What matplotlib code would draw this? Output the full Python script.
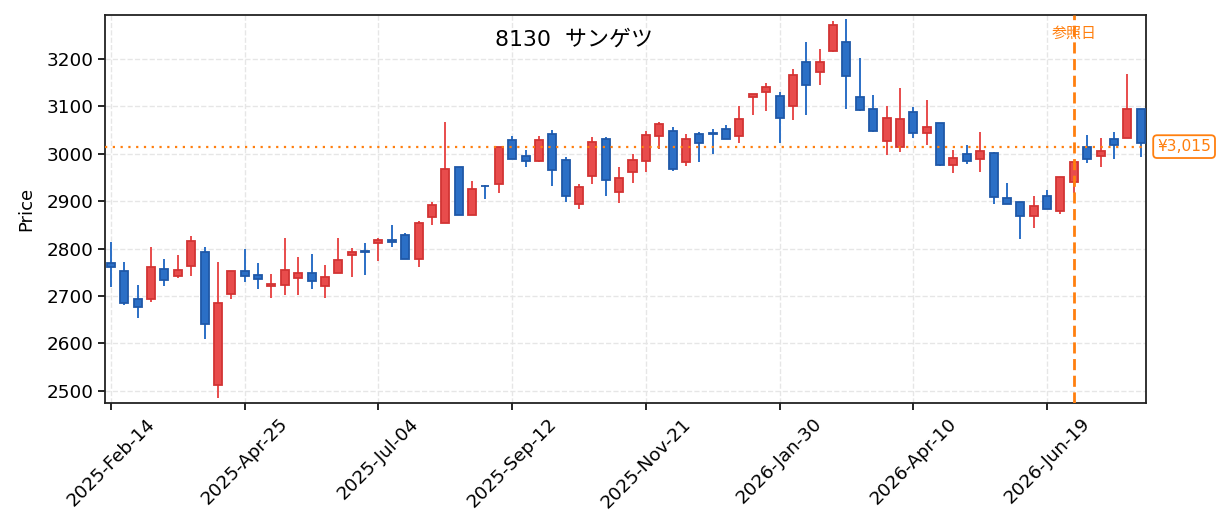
import matplotlib
matplotlib.use("Agg")
import matplotlib.pyplot as plt
import matplotlib.dates as mdates
import numpy as np
import pandas as pd

plt.rcParams['font.family'] = ['DejaVu Sans', 'Noto Sans CJK JP']

title = "8130  サンゲツ"
ref_label = "参照日"
ref_price = 3015
ref_index = 72
start_date = "2025-02-14"

opens = [2770, 2753, 2694, 2693, 2757, 2743, 2763, 2793, 2513, 2704,
         2753, 2744, 2722, 2724, 2737, 2748, 2722, 2748, 2786, 2794,
         2811, 2818, 2829, 2779, 2866, 2855, 2971, 2870, 2933, 2936,
         3029, 2995, 2984, 3042, 2987, 2894, 2953, 3032, 2919, 2961,
         2985, 3038, 3047, 2983, 3042, 3043, 3053, 3038, 3119, 3130,
         3121, 3101, 3194, 3172, 3217, 3236, 3120, 3095, 3027, 3015,
         3089, 3043, 3064, 2976, 2999, 2989, 3002, 2906, 2898, 2869,
         2910, 2879, 2941, 3015, 2995, 3031, 3033, 3095]
highs = [2813, 2771, 2723, 2803, 2778, 2786, 2827, 2803, 2771, 2753,
         2799, 2769, 2746, 2822, 2782, 2789, 2765, 2822, 2801, 2812,
         2822, 2850, 2833, 2858, 2898, 3066, 2971, 2942, 2935, 3015,
         3038, 3008, 3038, 3049, 2993, 2937, 3035, 3035, 2971, 3000,
         3047, 3066, 3056, 3042, 3045, 3052, 3060, 3101, 3125, 3149,
         3131, 3179, 3236, 3221, 3280, 3284, 3201, 3124, 3101, 3139,
         3099, 3113, 3064, 3008, 3019, 3045, 3003, 2939, 2898, 2911,
         2924, 2950, 2985, 3040, 3033, 3045, 3168, 3095]
lows = [2718, 2681, 2653, 2687, 2721, 2738, 2743, 2609, 2484, 2693,
        2730, 2715, 2696, 2702, 2702, 2715, 2696, 2748, 2740, 2744,
        2774, 2804, 2779, 2761, 2849, 2855, 2870, 2870, 2904, 2918,
        2989, 2971, 2982, 2933, 2898, 2884, 2937, 2911, 2896, 2938,
        2962, 3010, 2964, 2975, 2983, 2999, 3031, 3023, 3082, 3090,
        3023, 3071, 3082, 3145, 3214, 3094, 3091, 3045, 2997, 3004,
        3034, 3019, 2975, 2960, 2979, 2962, 2895, 2894, 2820, 2844,
        2883, 2872, 2917, 2980, 2971, 2988, 3033, 2994]
closes = [2762, 2685, 2677, 2762, 2733, 2755, 2817, 2642, 2685, 2753,
          2742, 2735, 2726, 2754, 2748, 2731, 2741, 2775, 2792, 2792,
          2818, 2813, 2779, 2853, 2891, 2967, 2870, 2925, 2931, 3015,
          2989, 2984, 3029, 2965, 2910, 2930, 3024, 2944, 2949, 2987,
          3040, 3062, 2967, 3032, 3023, 3041, 3031, 3073, 3125, 3140,
          3075, 3166, 3144, 3194, 3271, 3163, 3093, 3047, 3076, 3074,
          3044, 3056, 2977, 2992, 2985, 3006, 2909, 2895, 2869, 2889,
          2884, 2950, 2983, 2989, 3006, 3019, 3095, 3022]

dates = pd.date_range(start_date, periods=len(opens), freq="7D")
x = mdates.date2num(dates)

up_fill, up_edge = '#e84c4c', '#d23434'
dn_fill, dn_edge = '#2b6fc6', '#1f58a8'
accent = '#ff7f0e'

fig = plt.figure(figsize=(12.25, 5.32), dpi=100)
ax = fig.add_axes([0.0857, 0.2425, 0.8498, 0.7293])

o = np.array(opens); c = np.array(closes); h = np.array(highs); l = np.array(lows)
up = c >= o
fills = np.where(up, up_fill, dn_fill)
edges = np.where(up, up_edge, dn_edge)

ax.vlines(x, l, h, colors=fills, linewidth=1.4, zorder=2)
ax.bar(x, np.abs(c - o), bottom=np.minimum(o, c), width=4.2,
       color=fills, edgecolor=edges, linewidth=1.3, zorder=3)

ax.axhline(ref_price, color=accent, linestyle=(0, (1, 2.5)), linewidth=1.6, zorder=4)
ax.axvline(x[ref_index], color=accent, linestyle=(0, (4, 2)), linewidth=2.0, zorder=4)
ax.text(x[ref_index], 3255, ref_label, color=accent, fontsize=10.8,
        ha='center', va='center')
ax.annotate(f"¥{ref_price:,}", xy=(1.0, ref_price), xycoords=('axes fraction', 'data'),
            xytext=(8, 0), textcoords='offset points', ha='left', va='center',
            color=accent, fontsize=11.2,
            bbox=dict(boxstyle='round,pad=0.25', fc='white', ec=accent, lw=1.3),
            annotation_clip=False)

ax.text(0.4505, 0.936, title, transform=ax.transAxes, ha='center', va='center',
        fontsize=15.8)

ax.set_xlim(x[0] - 0.45 * 7, x[0] + 77.4 * 7)
ax.set_ylim(2474.5, 3292.5)
ax.set_yticks(np.arange(2500, 3201, 100))
ax.set_xticks(x[::10])
ax.set_xticklabels([d.strftime('%Y-%b-%d') for d in dates[::10]], rotation=45,
                   ha='center', fontsize=13.2)
ax.tick_params(axis='both', length=5, width=1.2)
ax.tick_params(axis='y', labelsize=13.2)
ax.set_ylabel("Price", fontsize=13, labelpad=8)
ax.grid(True, linestyle='--', color='#e6e6e6', linewidth=1.0, zorder=0)
ax.set_axisbelow(True)
for s in ax.spines.values():
    s.set_linewidth(1.3)
    s.set_color('#222222')

fig.savefig("out.png", dpi=100)
